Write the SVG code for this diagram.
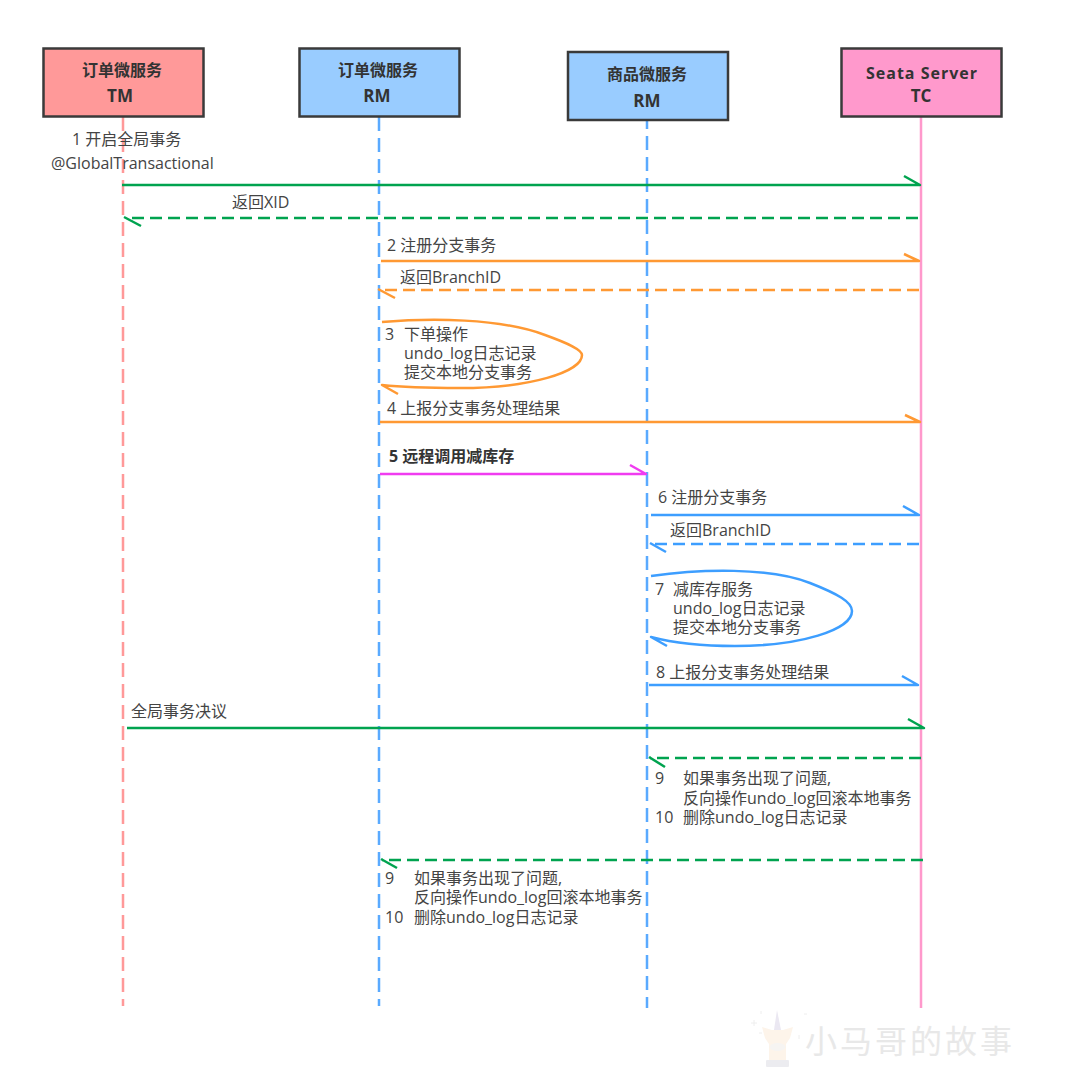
<svg xmlns="http://www.w3.org/2000/svg" width="1078" height="1082" viewBox="0 0 1078 1082">
<style>
text{font-family:"Open Sans","Noto Sans CJK SC",sans-serif;font-size:16px;fill:#444}
.h{font-weight:700;fill:#333;text-anchor:middle}
.e{font-size:17px}
.box{stroke:#3a3a3a;stroke-width:2.500}
.l{fill:none;stroke-width:2.500;stroke-linejoin:round}
.d{stroke-dasharray:12 6}
.g{stroke:#00a34f}.o{stroke:#ff9933}.b{stroke:#3d9eff}.m{stroke:#f03cf0}
.lb{stroke:#5aaaff;stroke-dasharray:14 7}
</style>
<rect width="1078" height="1082" fill="#fff"/>
<g id="lifelines" fill="none" stroke-width="2.500">
<path d="M123 117V1006" stroke="#ff9999" stroke-dasharray="14 7"/>
<path d="M379 117V1006" class="lb"/>
<path d="M647 115V1008" class="lb"/>
<path d="M921 117V1008" stroke="#ff99cc"/>
</g>
<g id="node-tm"><rect class="box" x="43.500" y="48.500" width="160" height="68" fill="#ff9999"/><text class="h" x="122" y="76">订单微服务</text><text class="h e" x="120" y="102">TM</text></g>
<g id="node-rm1"><rect class="box" x="299.500" y="48.500" width="160" height="68" fill="#99ccff"/><text class="h" x="378" y="76">订单微服务</text><text class="h e" x="377" y="102">RM</text></g>
<g id="node-rm2"><rect class="box" x="568" y="52" width="160" height="68" fill="#99ccff"/><text class="h" x="647" y="80">商品微服务</text><text class="h e" x="647" y="107">RM</text></g>
<g id="node-tc"><rect class="box" x="841.500" y="48.500" width="160" height="68" fill="#ff99cc"/><text class="h" x="922" y="79" letter-spacing="1">Seata Server</text><text class="h e" x="921" y="102">TC</text></g>
<g id="connectors">
<path class="l g" d="M122 185H920L904 176"/>
<path class="l g d" d="M918 218H126"/><path class="l g" d="M124 217L141 226"/>
<path class="l o" d="M381 261H919L904 254"/>
<path class="l o d" d="M919 290H380"/><path class="l o" d="M378 289L395 298"/>
<path class="l o" d="M382 322C430 318 500 318 545 335C570 344 582 350 582 355C582 372 530 388 460 388C425 388 400 387 382 385L398 394"/>
<path class="l o" d="M380 422H920L905 415"/>
<path class="l m" d="M380 474H646L630 465"/>
<path class="l b" d="M651 515H919L903 506"/>
<path class="l b d" d="M919 544H651"/><path class="l b" d="M650 543L666 552"/>
<path class="l b" d="M651 576C700 569 770 567 810 583C838 594 852 602 852 611C852 630 800 646 735 646C700 646 670 642 651 637L667 646"/>
<path class="l b" d="M649 685H918L902 676"/>
<path class="l g" d="M127 728H924L908 719"/>
<path class="l g d" d="M921 758H650"/><path class="l g" d="M649 757L665 767"/>
<path class="l g d" d="M923 860H382"/><path class="l g" d="M381 859L397 868"/>
</g>
<g id="labels">
<text x="72" y="145">1 开启全局事务<tspan x="51" y="169">@GlobalTransactional</tspan></text>
<text x="232" y="208">返回XID</text>
<text x="387" y="251">2 注册分支事务</text>
<text x="400" y="283">返回BranchID</text>
<text x="385" y="340">3<tspan x="404" y="340">下单操作</tspan><tspan x="404" y="359">undo_log日志记录</tspan><tspan x="404" y="378">提交本地分支事务</tspan></text>
<text x="387" y="414">4 上报分支事务处理结果</text>
<text x="389" y="462" font-weight="700" style="fill:#333">5 远程调用减库存</text>
<text x="658" y="503">6 注册分支事务</text>
<text x="670" y="536">返回BranchID</text>
<text x="655" y="595">7<tspan x="673" y="595">减库存服务</tspan><tspan x="673" y="614">undo_log日志记录</tspan><tspan x="673" y="633">提交本地分支事务</tspan></text>
<text x="656" y="678">8 上报分支事务处理结果</text>
<text x="131" y="717">全局事务决议</text>
<text x="655" y="784">9<tspan x="683" y="784">如果事务出现了问题,</tspan><tspan x="683" y="804">反向操作undo_log回滚本地事务</tspan><tspan x="655" y="823">10</tspan><tspan x="683" y="823">删除undo_log日志记录</tspan></text>
<text x="385" y="884">9<tspan x="414" y="884">如果事务出现了问题,</tspan><tspan x="414" y="903">反向操作undo_log回滚本地事务</tspan><tspan x="385" y="923">10</tspan><tspan x="414" y="923">删除undo_log日志记录</tspan></text>
</g>
<g id="watermark">
<path d="M777 1010L774 1030H781Z" fill="#ebe8f2"/>
<path d="M762 1027L772 1030H783L793 1027L790 1038L786 1044V1060H769V1044L765 1038Z" fill="#fdf4ea"/>
<ellipse cx="777.500" cy="1047" rx="8" ry="4" fill="#f6f4f2"/>
<rect x="766" y="1060" width="23" height="7" rx="1" fill="#ececf0"/>
<path d="M751 1023h6M754 1020v6M761 1011v3M804 1014h3M759 1033h3M799 1035v4" stroke="#eeeeee" stroke-width="1" fill="none"/>
<text x="805" y="1053" style="font-family:'Noto Sans CJK SC',sans-serif;font-size:32px;fill:#e8e8e8" letter-spacing="3">小马哥的故事</text>
</g>
</svg>
